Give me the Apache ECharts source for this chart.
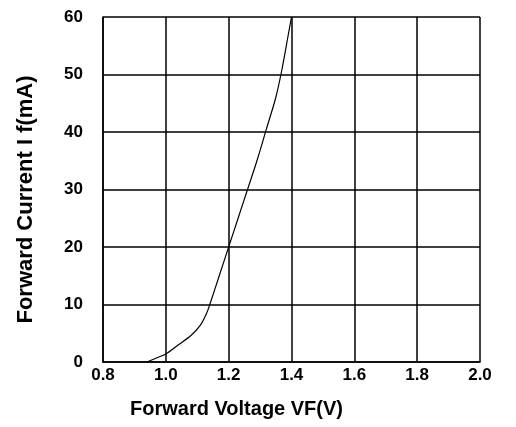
<!DOCTYPE html>
<html><head><meta charset="utf-8">
<script src="https://cdn.jsdelivr.net/npm/echarts@6/dist/echarts.min.js"></script>
<style>html,body{margin:0;padding:0;background:#fff}#c{width:516px;height:427px}</style>
</head><body><div id="c"></div>
<script>
const voltage = [0.94, 0.97, 1.00, 1.04, 1.08, 1.11, 1.13, 1.14, 1.17, 1.20, 1.23, 1.26, 1.29, 1.32, 1.35, 1.37, 1.39, 1.40];
const current = [0, 0.7, 1.4, 3, 4.6, 6.4, 8.5, 10, 15, 20, 25, 30, 35, 40.5, 46, 51, 57, 60];
const xTickLabels = ['0.8', '1.0', '1.2', '1.4', '1.6', '1.8', '2.0'];
const yTickLabels = ['0', '10', '20', '30', '40', '50', '60'];
const xTitle = 'Forward Voltage VF(V)';
const yTitle = 'Forward Current I f(mA)';

const chart = echarts.init(document.getElementById('c'));
const font = 'Liberation Sans';
chart.setOption({
  animation: false,
  backgroundColor: '#fff',
  grid: {left: 103, right: 36, top: 17, bottom: 65},
  xAxis: {
    type: 'value', min: 0.8, max: 2.0, interval: 0.2,
    name: xTitle, nameLocation: 'middle', nameGap: 37,
    nameTextStyle: {fontFamily: font, fontWeight: 'bold', fontSize: 20, color: '#000', padding: [0, 110, 0, 0]},
    axisLine: {lineStyle: {color: '#000', width: 1.5}},
    axisTick: {show: false},
    splitLine: {show: true, lineStyle: {color: '#000', width: 1.5}},
    axisLabel: {fontFamily: font, fontWeight: 'bold', fontSize: 17, color: '#000', margin: 5,
      formatter: v => xTickLabels[Math.round((v - 0.8) / 0.2)] }
  },
  yAxis: {
    type: 'value', min: 0, max: 60, interval: 10,
    name: yTitle, nameLocation: 'middle', nameGap: 66, nameRotate: 90,
    nameTextStyle: {fontFamily: font, fontWeight: 'bold', fontSize: 22, color: '#000', padding: [0, 20, 0, 0]},
    axisLine: {show: true, lineStyle: {color: '#000', width: 1.5}},
    axisTick: {show: false},
    splitLine: {show: true, lineStyle: {color: '#000', width: 1.5}},
    axisLabel: {fontFamily: font, fontWeight: 'bold', fontSize: 17, color: '#000', margin: 20,
      formatter: v => yTickLabels[Math.round(v / 10)] }
  },
  series: [{
    type: 'line', smooth: 0.3, symbol: 'none',
    lineStyle: {color: '#000', width: 1.2},
    data: voltage.map((v, i) => [v, current[i]])
  }]
});
</script></body></html>
